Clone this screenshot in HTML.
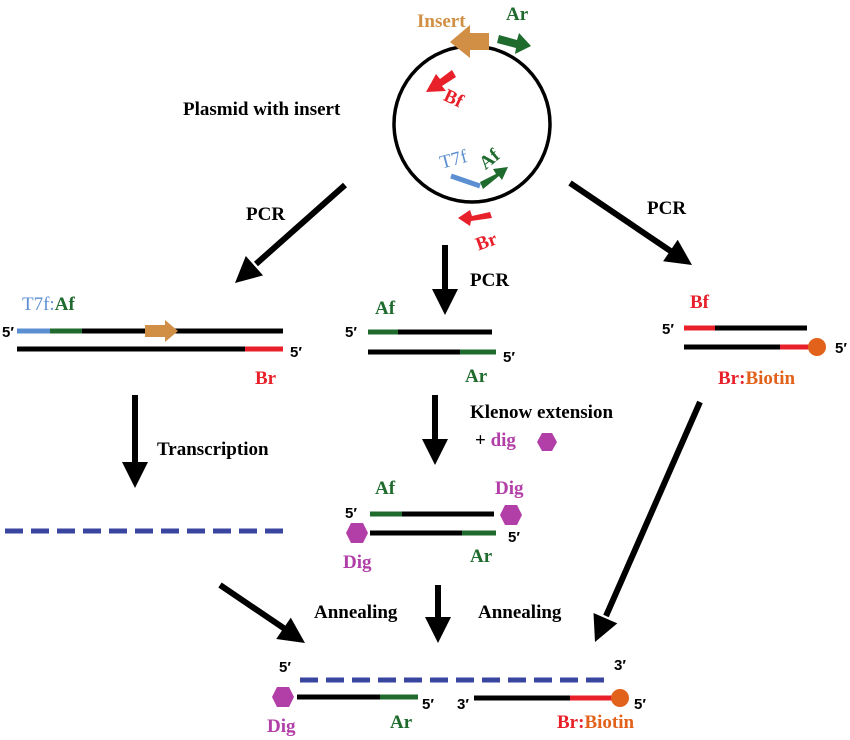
<!DOCTYPE html>
<html><head><meta charset="utf-8"><style>body{margin:0;background:#fff}svg{display:block}</style></head><body>
<svg width="850" height="740" viewBox="0 0 850 740" xmlns="http://www.w3.org/2000/svg">
<g font-family="Liberation Serif, serif" font-weight="bold" font-size="19">
<!-- plasmid -->
<circle cx="472" cy="124" r="78" fill="none" stroke="#000" stroke-width="3.5"/>
<polygon points="489,33 470,33 470,25 450,42 470,58 470,50 489,50" fill="#d08f45"/>
<polygon points="499,35 517,40 519,33 531,46 515,54 516,48 497,43" fill="#1f6b2e"/>
<polygon points="452,70 440,79 436,74 426,92 446,91 442,86 456,77" fill="#e8202a"/>
<line x1="451" y1="176" x2="480" y2="186" stroke="#5b8fd2" stroke-width="5"/>
<polygon points="480,182 496,174 493,169 508,167 502,180 499,176 483,189" fill="#1f6b2e"/>
<polygon points="490,212 472,216 470,210 458,218 470,226 471,221 492,218" fill="#e8202a"/>
<text x="417" y="27" fill="#d08f45">Insert</text>
<text x="506" y="20" fill="#1f6b2e">Ar</text>
<text x="443" y="103" fill="#e8202a" transform="rotate(25 450 100)">Bf</text>
<text x="440" y="165" fill="#5b8fd2" font-weight="normal" transform="rotate(-15 455 160)">T7f</text>
<text x="480" y="165" fill="#1f6b2e" transform="rotate(-40 490 160)">Af</text>
<text x="476" y="247" fill="#e8202a" transform="rotate(-20 488 242)">Br</text>
<text x="183" y="115" fill="#000">Plasmid with insert</text>
<!-- arrows -->
<g stroke="#000" stroke-width="6">
<line x1="345" y1="185" x2="256" y2="264"/>
<line x1="445" y1="245" x2="445" y2="291"/>
<line x1="570" y1="183" x2="672" y2="252"/>
<line x1="135" y1="395" x2="135" y2="464"/>
<line x1="435" y1="395" x2="435" y2="441"/>
<line x1="700" y1="402" x2="606" y2="616"/>
<line x1="220" y1="585" x2="285" y2="629"/>
<line x1="438" y1="585" x2="438" y2="619"/>
</g>
<g fill="#000">
<polygon points="235,283 263,275.4 245.8,256"/>
<polygon points="445,315 432,289 458,289"/>
<polygon points="692,265 663.1,261.3 677.7,239.7"/>
<polygon points="135,488 122,462 148,462"/>
<polygon points="435,465 422,439 448,439"/>
<polygon points="595,642 617.3,623.4 593.5,613"/>
<polygon points="305,643 276.2,639 290.8,617.6"/>
<polygon points="438,643 425,617 451,617"/>
</g>
<text x="246" y="220">PCR</text>
<text x="470" y="286">PCR</text>
<text x="647" y="214">PCR</text>
<text x="157" y="455">Transcription</text>
<text x="470" y="418">Klenow extension</text>
<text x="475" y="446"><tspan>+ </tspan><tspan fill="#b23ea8">dig</tspan></text>
<text x="314" y="618">Annealing</text>
<text x="478" y="618">Annealing</text>
<!-- left product -->
<g stroke-width="5">
<line x1="17" y1="331" x2="50" y2="331" stroke="#5b8fd2"/>
<line x1="50" y1="331" x2="82" y2="331" stroke="#1f6b2e"/>
<line x1="82" y1="331" x2="283" y2="331" stroke="#000"/>
<line x1="17" y1="349" x2="245" y2="349" stroke="#000"/>
<line x1="245" y1="349" x2="283" y2="349" stroke="#e8202a"/>
</g>
<polygon points="145,325 165,325 165,320 178,331 165,342 165,337 145,337" fill="#d08f45"/>
<text x="22" y="310"><tspan fill="#5b8fd2" font-weight="normal">T7f:</tspan><tspan fill="#1f6b2e">Af</tspan></text>
<text x="255" y="384" fill="#e8202a">Br</text>
<!-- middle product -->
<g stroke-width="5">
<line x1="368" y1="332" x2="398" y2="332" stroke="#1f6b2e"/>
<line x1="398" y1="332" x2="492" y2="332" stroke="#000"/>
<line x1="368" y1="352" x2="460" y2="352" stroke="#000"/>
<line x1="460" y1="352" x2="496" y2="352" stroke="#1f6b2e"/>
</g>
<text x="375" y="314" fill="#1f6b2e">Af</text>
<text x="465" y="382" fill="#1f6b2e">Ar</text>
<!-- right product -->
<g stroke-width="5">
<line x1="684" y1="328" x2="715" y2="328" stroke="#e8202a"/>
<line x1="715" y1="328" x2="807" y2="328" stroke="#000"/>
<line x1="684" y1="347" x2="780" y2="347" stroke="#000"/>
<line x1="780" y1="347" x2="812" y2="347" stroke="#e8202a"/>
</g>
<circle cx="817" cy="347" r="9" fill="#e2621b"/>
<text x="690" y="308" fill="#e8202a">Bf</text>
<text x="718" y="384"><tspan fill="#e8202a">Br:</tspan><tspan fill="#e2621b">Biotin</tspan></text>
<!-- hexagons -->
<g fill="#b23ea8">
<polygon points="537,442 542,433 552,433 557,442 552,451 542,451"/>
<polygon points="500,515 505,505 517,505 522,515 517,525 505,525"/>
<polygon points="346,533 351,523 363,523 368,533 363,543 351,543"/>
<polygon points="272,697 277,687 289,687 294,697 289,707 277,707"/>
</g>
<!-- dashed -->
<g stroke="#3a45a0" stroke-width="5" stroke-dasharray="18,8">
<line x1="5" y1="531" x2="287" y2="531"/>
<line x1="300" y1="680" x2="608" y2="680"/>
</g>
<!-- dig product -->
<g stroke-width="5">
<line x1="370" y1="514" x2="402" y2="514" stroke="#1f6b2e"/>
<line x1="402" y1="514" x2="494" y2="514" stroke="#000"/>
<line x1="370" y1="533" x2="462" y2="533" stroke="#000"/>
<line x1="462" y1="533" x2="496" y2="533" stroke="#1f6b2e"/>
</g>
<text x="375" y="494" fill="#1f6b2e">Af</text>
<text x="495" y="494" fill="#b23ea8">Dig</text>
<text x="343" y="568" fill="#b23ea8">Dig</text>
<text x="470" y="562" fill="#1f6b2e">Ar</text>
<!-- final -->
<g stroke-width="5">
<line x1="297" y1="697" x2="380" y2="697" stroke="#000"/>
<line x1="380" y1="697" x2="418" y2="697" stroke="#1f6b2e"/>
<line x1="474" y1="698" x2="570" y2="698" stroke="#000"/>
<line x1="570" y1="698" x2="614" y2="698" stroke="#e8202a"/>
</g>
<circle cx="620" cy="698" r="9" fill="#e2621b"/>
<text x="267" y="732" fill="#b23ea8">Dig</text>
<text x="390" y="728" fill="#1f6b2e">Ar</text>
<text x="557" y="728"><tspan fill="#e8202a">Br:</tspan><tspan fill="#e2621b">Biotin</tspan></text>
</g>
<g font-family="Liberation Sans, sans-serif" font-weight="bold" font-size="15" fill="#000">
<text x="2" y="337">5′</text>
<text x="290" y="357">5′</text>
<text x="345" y="337">5′</text>
<text x="503" y="362">5′</text>
<text x="662" y="334">5′</text>
<text x="835" y="353">5′</text>
<text x="345" y="518">5′</text>
<text x="508" y="542">5′</text>
<text x="279" y="672">5′</text>
<text x="614" y="670">3′</text>
<text x="422" y="709">5′</text>
<text x="457" y="709">3′</text>
<text x="634" y="709">5′</text>
</g>
</svg>
</body></html>
